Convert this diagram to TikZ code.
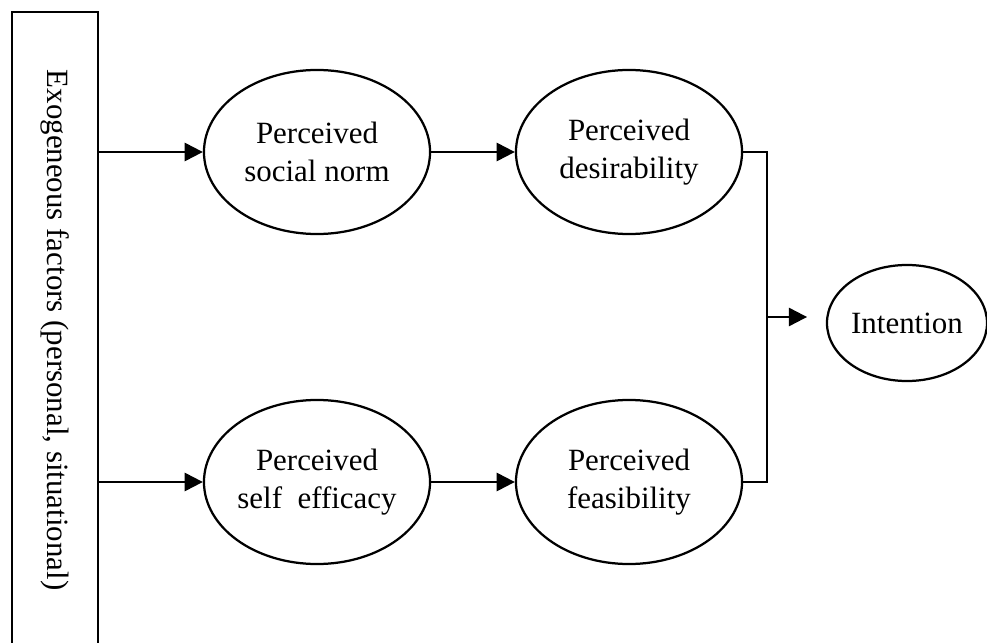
\documentclass[tikz,border=0pt]{standalone}
\usepackage{fontspec}
\setmainfont{Liberation Serif}
\usepackage{tikz}
\usetikzlibrary{
	arrows.meta,
	shapes.geometric
}

\begin{document}
\begin{tikzpicture}[x=0.025cm,y=-0.025cm,line width=1.6pt,
		font=\fontsize{22}{27}\selectfont,
		factor-ellipse/.style={draw=black,ellipse,align=center,inner sep=0pt,
			minimum width=5.65cm,minimum height=4.1cm},
		link-arrow/.style={-{Triangle[fill=black,length=13pt,width=13pt]}}]
		\useasboundingbox (0,0) rectangle (987,643);
		\clip (0,0) rectangle (987,643);

		\node[draw=black,line width=2pt,rotate=-90,inner sep=0pt,
			minimum width=15.9cm,minimum height=2.15cm] at (55, 330) (exogeneous)
			{Exogeneous factors (personal, situational)};
		\node[factor-ellipse] at (317, 152) (social-norm)
			{Perceived \\ social norm};
		\node[factor-ellipse] at (629, 152) (desirability)
			{Perceived \\ desirability};
		\node[factor-ellipse] at (317, 482) (self-efficacy)
			{Perceived \\ self\ \ efficacy};
		\node[factor-ellipse] at (629, 482) (feasibility)
			{Perceived \\ feasibility};
		\node[draw=black,ellipse,inner sep=0pt,minimum width=4cm,minimum height=2.9cm]
			at (907, 323) (intention) {Intention};
		\coordinate (join) at (767, 317);

		\draw[link-arrow] (social-norm.west -| exogeneous.north) -- (social-norm.west);
		\draw[link-arrow] (self-efficacy.west -| exogeneous.north) -- (self-efficacy.west);
		\draw[link-arrow] (social-norm) -- (desirability);
		\draw[link-arrow] (self-efficacy) -- (feasibility);
		\draw (desirability.east) -| (join) |- (feasibility.east);
		\draw[link-arrow,shorten >=0.47cm] (join) -- (join -| intention.west);
	\end{tikzpicture}
\end{document}
